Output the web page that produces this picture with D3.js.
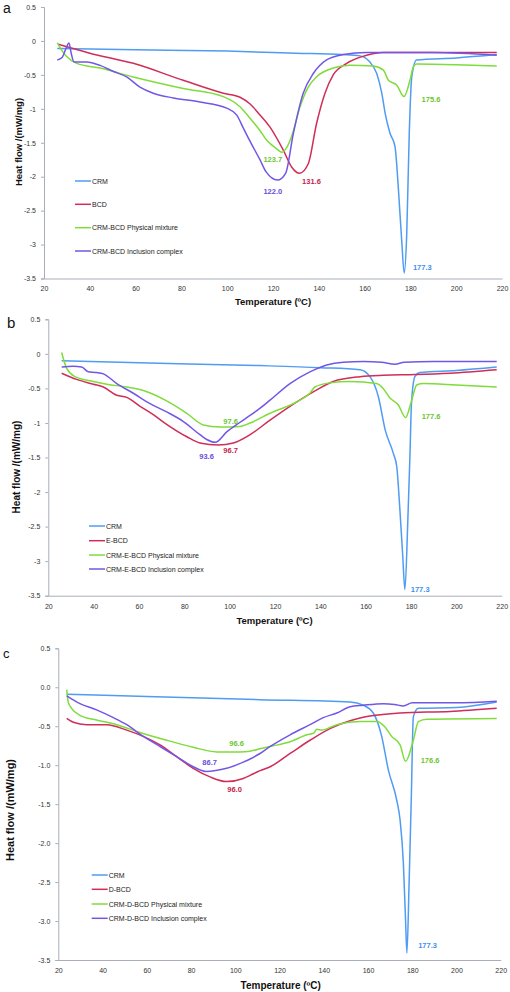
<!DOCTYPE html>
<html><head><meta charset="utf-8">
<script src="https://cdn.jsdelivr.net/npm/d3@7"></script>
<style>
html,body{margin:0;padding:0;background:#fff;}
svg{display:block;font-family:"Liberation Sans",Arial,sans-serif;}
</style></head>
<body>
<svg id="chart" width="510" height="992"></svg>
<script>
// ---------- data ----------
const seriesNames = ["CRM", "BCD", "CRM-BCD Physical mixture", "CRM-BCD Inclusion complex"];
const seriesNamesE = ["CRM", "E-BCD", "CRM-E-BCD Physical mixture", "CRM-E-BCD Inclusion complex"];
const seriesNamesD = ["CRM", "D-BCD", "CRM-D-BCD Physical mixture", "CRM-D-BCD Inclusion complex"];
const xTicks = [20, 40, 60, 80, 100, 120, 140, 160, 180, 200, 220];
const xTickLabels = ["20","40","60","80","100","120","140","160","180","200","220"];
const yTicks = [0.5, 0, -0.5, -1, -1.5, -2, -2.5, -3, -3.5];
const yTickLabelsAB = ["0.5","0","-0.5","-1","-1.5","-2","-2.5","-3","-3.5"];
const yTickLabelsC = ["0.5","0.0","-0.5","-1.0","-1.5","-2.0","-2.5","-3.0","-3.5"];

// panel a
const a_CRM = [[25.8,-0.11],[60,-0.13],[100,-0.15],[130,-0.18],[150,-0.20],[158,-0.22],[162,-0.30],[165.3,-0.48],[167.5,-0.77],[169,-1.07],[171.1,-1.36],[173.3,-1.56],[174.7,-2.15],[176.2,-2.94],[177.3,-3.42],[178.4,-2.84],[179.5,-1.36],[180.6,-0.53],[182.7,-0.28],[200,-0.25],[217.7,-0.20]];
const a_BCD = [[26.2,-0.05],[40,-0.18],[59,-0.33],[80.8,-0.58],[98.3,-0.77],[105.6,-0.83],[110,-0.93],[114.3,-1.09],[118.7,-1.27],[124.5,-1.61],[128.2,-1.86],[131.6,-1.95],[135.4,-1.81],[139,-1.22],[142.7,-0.77],[146.3,-0.50],[152.2,-0.33],[160.9,-0.21],[168.2,-0.17],[190,-0.17],[217.7,-0.17]];
const a_PM = [[25.8,-0.03],[28,-0.15],[29.9,-0.23],[34.3,-0.33],[44.5,-0.40],[59,-0.53],[80.8,-0.70],[98.3,-0.82],[105.6,-0.97],[110,-1.14],[114.3,-1.32],[117.2,-1.46],[121.6,-1.59],[123.9,-1.64],[125.8,-1.58],[128.2,-1.40],[131.8,-0.97],[135.4,-0.68],[139,-0.53],[146.3,-0.40],[153.6,-0.36],[163.8,-0.37],[168.2,-0.43],[170.4,-0.58],[174,-0.65],[177.2,-0.82],[179.8,-0.58],[181.3,-0.38],[182.7,-0.34],[200,-0.35],[217.7,-0.37]];
const a_IC = [[25.8,-0.28],[28,-0.24],[29.5,-0.12],[30.9,-0.03],[32,-0.2],[33.1,-0.31],[38.6,-0.31],[44.5,-0.36],[50.3,-0.45],[56.1,-0.53],[61.9,-0.68],[67.7,-0.77],[76.5,-0.84],[88.1,-0.90],[99.8,-0.99],[104.1,-1.09],[107,-1.28],[110,-1.48],[114.3,-1.75],[117,-1.93],[122,-2.05],[125.5,-1.95],[128.9,-1.36],[133.2,-0.77],[137.6,-0.48],[143.4,-0.28],[150.7,-0.20],[160.9,-0.17],[190,-0.17],[217.7,-0.21]];
const a_labels = [["177.3",181.1,-3.37,0],["131.6",132.7,-2.11,1],["122.0",115.8,-2.25,3],["123.7",115.8,-1.78,2],["175.6",184.9,-0.90,2]];

// panel b
const b_CRM = [[25.9,-0.10],[60,-0.13],[113.3,-0.17],[140,-0.20],[157.5,-0.23],[161.9,-0.33],[165.6,-0.62],[168.6,-1.10],[172.2,-1.44],[173.7,-1.63],[175.1,-2.26],[176.3,-2.9],[177.3,-3.41],[178.6,-2.4],[179.5,-1.5],[180.2,-0.72],[181.7,-0.33],[183.9,-0.27],[200,-0.24],[217.8,-0.19]];
const b_EBCD = [[25.9,-0.28],[32.5,-0.37],[39.9,-0.44],[44.3,-0.48],[50.2,-0.60],[54.6,-0.63],[60.5,-0.76],[66.3,-0.88],[72.2,-1.02],[81.1,-1.20],[86.9,-1.29],[95,-1.32],[101.6,-1.29],[109,-1.17],[117.8,-0.96],[126.6,-0.76],[136.9,-0.55],[145.7,-0.40],[157.6,-0.33],[167.8,-0.31],[182,-0.30],[197.2,-0.28],[217.8,-0.23]];
const b_PM = [[25.9,0.02],[28.1,-0.21],[31.8,-0.33],[38.4,-0.39],[45.8,-0.44],[54.6,-0.48],[61.9,-0.53],[72.2,-0.68],[81.1,-0.86],[88.4,-1.03],[95.7,-1.06],[104.6,-1.05],[109,-1.00],[117.8,-0.86],[131,-0.67],[135.4,-0.57],[137.6,-0.48],[144.2,-0.42],[153,-0.40],[164.8,-0.43],[167.7,-0.50],[170.7,-0.64],[174.4,-0.74],[177.6,-0.92],[180.3,-0.67],[182.5,-0.45],[185.4,-0.43],[200,-0.45],[217.8,-0.48]];
const b_IC = [[25.9,-0.19],[31,-0.18],[34.7,-0.19],[37.6,-0.26],[41.3,-0.27],[44.3,-0.29],[50.2,-0.43],[57.5,-0.57],[64.9,-0.72],[72.2,-0.84],[79.6,-0.98],[86.9,-1.17],[89.9,-1.24],[93.6,-1.28],[98.7,-1.13],[104.6,-0.99],[109,-0.89],[113.3,-0.79],[117.8,-0.67],[126.6,-0.43],[135.4,-0.26],[142.8,-0.16],[150.1,-0.12],[159,-0.11],[167,-0.12],[172.9,-0.15],[177,-0.12],[190,-0.11],[217.8,-0.11]];
const b_labels = [["177.3",179.9,-3.44,0],["177.6",184.7,-0.95,2],["96.7",97.2,-1.43,1],["93.6",86.6,-1.52,3],["97.6",97.2,-1.02,2]];

// panel c
const c_CRM = [[23.8,-0.09],[60,-0.12],[111.2,-0.16],[151.9,-0.19],[157.9,-0.23],[162.4,-0.33],[166.2,-0.63],[169.2,-1.06],[173,-1.45],[174.5,-1.70],[176,-2.26],[177,-3.0],[177.6,-3.41],[178.6,-2.5],[179.6,-1.4],[180.5,-0.38],[182.8,-0.27],[200,-0.26],[218.2,-0.19]];
const c_DBCD = [[23.8,-0.40],[26.8,-0.45],[32.8,-0.48],[41.9,-0.48],[50.9,-0.55],[58.4,-0.63],[66,-0.74],[73.5,-0.89],[81,-1.04],[88.6,-1.15],[96,-1.21],[103.6,-1.17],[106.7,-1.13],[111.2,-1.07],[115.8,-1.02],[124.8,-0.85],[133.8,-0.68],[142.8,-0.53],[151.9,-0.43],[160.9,-0.37],[174.5,-0.33],[197.1,-0.31],[218.2,-0.27]];
const c_PM = [[23.8,-0.03],[24.5,-0.19],[26,-0.27],[29.8,-0.36],[37.3,-0.42],[46.4,-0.48],[56.9,-0.58],[69,-0.68],[81,-0.77],[91.6,-0.83],[102.1,-0.83],[106.7,-0.82],[111.2,-0.79],[115.8,-0.76],[124.8,-0.70],[132.4,-0.61],[135.4,-0.59],[136.9,-0.54],[139,-0.55],[145.9,-0.48],[156.4,-0.44],[163.9,-0.44],[167.7,-0.51],[170.7,-0.63],[174.5,-0.74],[177,-0.95],[180.5,-0.68],[182.8,-0.44],[186.6,-0.41],[218.2,-0.40]];
const c_IC = [[23.8,-0.11],[29.8,-0.21],[37.3,-0.29],[44.9,-0.39],[50.9,-0.48],[58.4,-0.63],[66,-0.76],[73.5,-0.89],[81,-1.02],[86.7,-1.08],[96.1,-1.04],[103.6,-0.96],[106.7,-0.92],[111.2,-0.85],[115.8,-0.76],[124.8,-0.61],[133.8,-0.48],[139.8,-0.39],[145.9,-0.33],[151.9,-0.25],[157.9,-0.23],[167,-0.21],[172,-0.22],[176,-0.24],[180,-0.20],[200,-0.20],[218.2,-0.18]];
const c_labels = [["177.3",182.7,-3.35,0],["176.6",183.8,-0.97,2],["96.0",96.4,-1.34,1],["86.7",85.1,-0.995,3],["96.6",97.3,-0.75,2]];

// ---------- style ----------
const lineColors = ["#4f9cf2", "#cf2e58", "#7fdc3c", "#7257e6"];
const labelColors = ["#3f8ff0", "#c8234f", "#6cc62e", "#6a4ddb"];

const panels = [
  {letter:"a", lx:3, ly:13, lsize:14, x0:44, x1:502, yTop:7, yBot:278.5, data:[a_CRM,a_BCD,a_PM,a_IC], names:seriesNames, labels:a_labels, yLabels:yTickLabelsAB,
   legX:75, legY:[181,204.3,227.7,251], ytx:18, yty:142, ytSize:9.5, xtx:273, xty:305, xtSize:9.5, tickDy:13.5},
  {letter:"b", lx:7, ly:328, lsize:15, x0:48.3, x1:501.7, yTop:319.3, yBot:595.7, data:[b_CRM,b_EBCD,b_PM,b_IC], names:seriesNamesE, labels:b_labels, yLabels:yTickLabelsAB,
   legX:89, legY:[526,540.7,555,569], ytx:16.5, yty:467, ytSize:10, xtx:274.5, xty:623.5, xtSize:9.5, tickDy:14.5},
  {letter:"c", lx:3, ly:658, lsize:13, x0:58.3, x1:500.7, yTop:648.3, yBot:960, data:[c_CRM,c_DBCD,c_PM,c_IC], names:seriesNamesD, labels:c_labels, yLabels:yTickLabelsC,
   legX:91.7, legY:[875,889.3,904,918.3], ytx:10, yty:810, ytSize:11, xtx:280.7, xty:988.5, xtSize:10, tickDy:14}
];

const svg = d3.select("#chart");
const axisColor = "#a8adb8";

panels.forEach(p => {
  const g = svg.append("g");
  const x = d3.scaleLinear().domain([20, 220]).range([p.x0, p.x1]);
  const y = d3.scaleLinear().domain([0.5, -3.5]).range([p.yTop, p.yBot]);

  // panel letter
  g.append("text").attr("x", p.lx).attr("y", p.ly).attr("font-size", p.lsize).attr("fill", "#111").text(p.letter);

  // y axis
  const yAxis = d3.axisLeft(y).tickValues(yTicks).tickSize(3).tickPadding(5)
    .tickFormat((d, i) => p.yLabels[i]);
  const ya = g.append("g").attr("transform", `translate(${p.x0},0)`).call(yAxis);
  ya.select(".domain").attr("stroke", axisColor);
  ya.selectAll(".tick line").attr("stroke", axisColor);
  ya.selectAll("text").attr("font-size", 7).attr("fill", "#333").attr("font-family", "Liberation Sans, Arial, sans-serif");

  // x axis
  const xAxis = d3.axisBottom(x).tickValues(xTicks).tickSize(0).tickPadding(p.tickDy - 6)
    .tickFormat((d, i) => xTickLabels[i]);
  const xa = g.append("g").attr("transform", `translate(0,${y(-3.5)})`).call(xAxis);
  xa.select(".domain").attr("stroke", axisColor);
  xa.selectAll("text").attr("font-size", 7).attr("fill", "#333").attr("font-family", "Liberation Sans, Arial, sans-serif");

  // axis titles
  g.append("text").attr("transform", `translate(${p.ytx},${p.yty}) rotate(-90)`)
    .attr("text-anchor", "middle").attr("dominant-baseline", "central")
    .attr("font-size", p.ytSize).attr("font-weight", "bold").attr("fill", "#111")
    .text("Heat flow /(mW/mg)");
  g.append("text").attr("x", p.xtx).attr("y", p.xty).attr("text-anchor", "middle")
    .attr("font-size", p.xtSize).attr("font-weight", "bold").attr("fill", "#111")
    .text("Temperature (ºC)");

  // lines
  const line = d3.line().x(d => x(d[0])).y(d => y(d[1])).curve(d3.curveMonotoneX);
  p.data.forEach((s, i) => {
    g.append("path").datum(s).attr("d", line).attr("fill", "none")
      .attr("stroke", lineColors[i]).attr("stroke-width", 1.5).attr("stroke-linejoin", "round");
  });

  // peak labels
  p.labels.forEach(l => {
    g.append("text").attr("x", x(l[1])).attr("y", y(l[2]))
      .attr("font-size", 7.5).attr("font-weight", "bold").attr("fill", labelColors[l[3]]).text(l[0]);
  });

  // legend
  p.names.forEach((n, i) => {
    const ly = p.legY[i];
    g.append("line").attr("x1", p.legX).attr("x2", p.legX + 16).attr("y1", ly).attr("y2", ly)
      .attr("stroke", lineColors[i]).attr("stroke-width", 1.5);
    g.append("text").attr("x", p.legX + 17).attr("y", ly).attr("dominant-baseline", "central")
      .attr("font-size", 7).attr("fill", "#222").text(n);
  });
});
</script>
</body></html>
